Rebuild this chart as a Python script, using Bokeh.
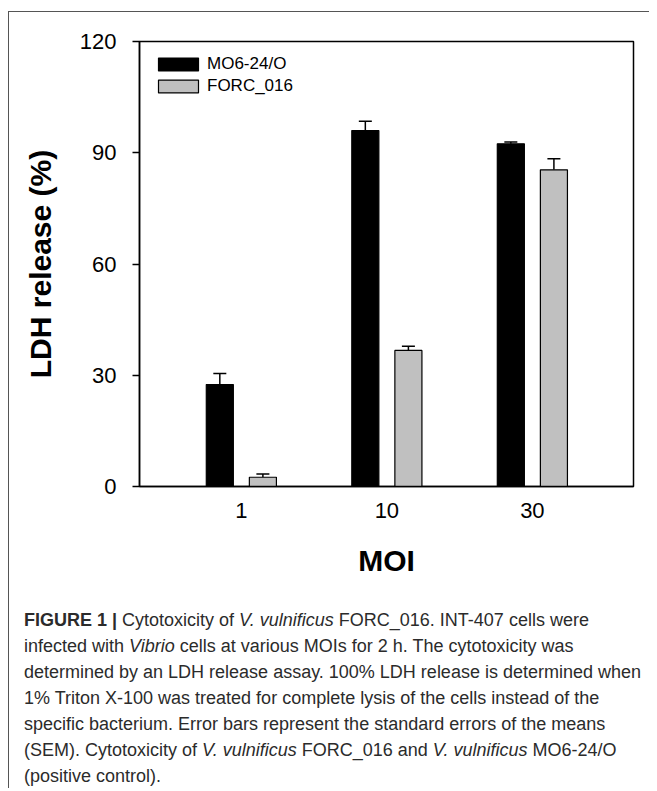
from bokeh.plotting import figure
from bokeh.models import (ColumnDataSource, Range1d, FixedTicker, Whisker, TeeHead,
                          Legend, LegendItem, Div)
from bokeh.layouts import column
from bokeh.transform import dodge
from bokeh.embed import file_html
from bokeh.resources import INLINE

# ---- data ----
moi_labels = ["1", "10", "30"]
mo6_mean = [27.5, 96.0, 92.4]
mo6_sem = [3.0, 2.5, 0.5]
forc_mean = [2.5, 36.7, 85.4]
forc_sem = [0.9, 1.1, 3.0]
y_ticks = [0, 30, 60, 90, 120]
series_names = ["MO6-24/O", "FORC_016"]

xpos = list(range(1, len(moi_labels) + 1))
src = ColumnDataSource(dict(
    x=xpos,
    mo6=mo6_mean,
    mo6_up=[m + s for m, s in zip(mo6_mean, mo6_sem)],
    forc=forc_mean,
    forc_up=[m + s for m, s in zip(forc_mean, forc_sem)],
))

FONT = "Liberation Sans"

p = figure(width=640, height=584, output_backend="svg", toolbar_location=None,
           x_range=Range1d(0.3, 3.695), y_range=Range1d(0, 120),
           min_border_left=130, min_border_right=16, min_border_top=29,
           min_border_bottom=110, margin=0)
p.grid.visible = False
p.outline_line_color = "black"
p.outline_line_width = 1.5
p.outline_line_alpha = 1.0
p.background_fill_color = "white"
p.border_fill_color = "white"

off = 0.148
bw = 0.186
r1 = p.vbar(x=dodge("x", -off, range=p.x_range), top="mo6", width=bw, source=src,
            fill_color="black", line_color="black", line_width=1.2)
r2 = p.vbar(x=dodge("x", off, range=p.x_range), top="forc", width=bw, source=src,
            fill_color="#c0c0c0", line_color="black", line_width=1.2)

for base, lo, up in [(dodge("x", -off, range=p.x_range), "mo6", "mo6_up"),
                     (dodge("x", off, range=p.x_range), "forc", "forc_up")]:
    w = Whisker(source=src, base=base, lower=lo, upper=up, dimension="height",
                line_color="black", line_width=1.5,
                upper_head=TeeHead(size=13, line_color="black", line_width=1.5),
                lower_head=None)
    p.add_layout(w)

# axes
yax = p.yaxis[0]
yax.ticker = FixedTicker(ticks=y_ticks)
yax.major_tick_out = 7
yax.major_tick_in = 0
yax.minor_tick_line_color = None
yax.axis_line_width = 1.5
yax.major_tick_line_width = 1.5
yax.major_label_text_font = FONT
yax.major_label_text_font_size = "22px"
yax.major_label_text_color = "black"
yax.major_label_standoff = 16
yax.axis_label = "LDH release (%)"
yax.axis_label_text_font = FONT
yax.axis_label_text_font_style = "bold"
yax.axis_label_text_font_size = "30px"
yax.axis_label_text_color = "black"
yax.axis_label_standoff = 20

xax = p.xaxis[0]
xax.ticker = FixedTicker(ticks=xpos)
xax.major_label_overrides = {x: lab for x, lab in zip(xpos, moi_labels)}
xax.major_tick_out = 0
xax.major_tick_in = 0
xax.minor_tick_line_color = None
xax.axis_line_width = 1.5
xax.major_label_text_font = FONT
xax.major_label_text_font_size = "22px"
xax.major_label_text_color = "black"
xax.major_label_standoff = 16
xax.axis_label = "MOI"
xax.axis_label_text_font = FONT
xax.axis_label_text_font_style = "bold"
xax.axis_label_text_font_size = "30px"
xax.axis_label_text_color = "black"
xax.axis_label_standoff = 23

legend = Legend(items=[LegendItem(label=series_names[0], renderers=[r1]),
                       LegendItem(label=series_names[1], renderers=[r2])],
                location=(14, 390), margin=0, padding=0, spacing=2,
                glyph_width=50, glyph_height=16, label_height=13,
                label_standoff=4, label_text_font=FONT,
                label_text_font_size="17px", label_text_color="black",
                border_line_color=None, background_fill_alpha=0)
p.add_layout(legend)

LINE = "height:26px;line-height:26px;"
caption = (
    '<div style="font-family:\'Liberation Sans\',sans-serif;font-size:18px;color:#2b2b2b;'
    'white-space:nowrap;padding-left:15px;padding-top:11px;">'
    f'<div style="{LINE}"><b>FIGURE 1 |</b> Cytotoxicity of <i>V. vulnificus</i> FORC_016. INT-407 cells were</div>'
    f'<div style="{LINE}">infected with <i>Vibrio</i> cells at various MOIs for 2 h. The cytotoxicity was</div>'
    f'<div style="{LINE}">determined by an LDH release assay. 100% LDH release is determined when</div>'
    f'<div style="{LINE}">1% Triton X-100 was treated for complete lysis of the cells instead of the</div>'
    f'<div style="{LINE}">specific bacterium. Error bars represent the standard errors of the means</div>'
    f'<div style="{LINE}">(SEM). Cytotoxicity of <i>V. vulnificus</i> FORC_016 and <i>V. vulnificus</i> MO6-24/O</div>'
    f'<div style="{LINE}">(positive control).</div>'
    '</div>'
)
div = Div(text=caption, width=640, height=192, margin=0)

layout = column(p, div, margin=(11, 0, 0, 8), spacing=0,
                styles={"border-left": "1px solid #555555",
                        "border-top": "1px solid #555555"})

open("out.html", "w").write(file_html(layout, INLINE))
